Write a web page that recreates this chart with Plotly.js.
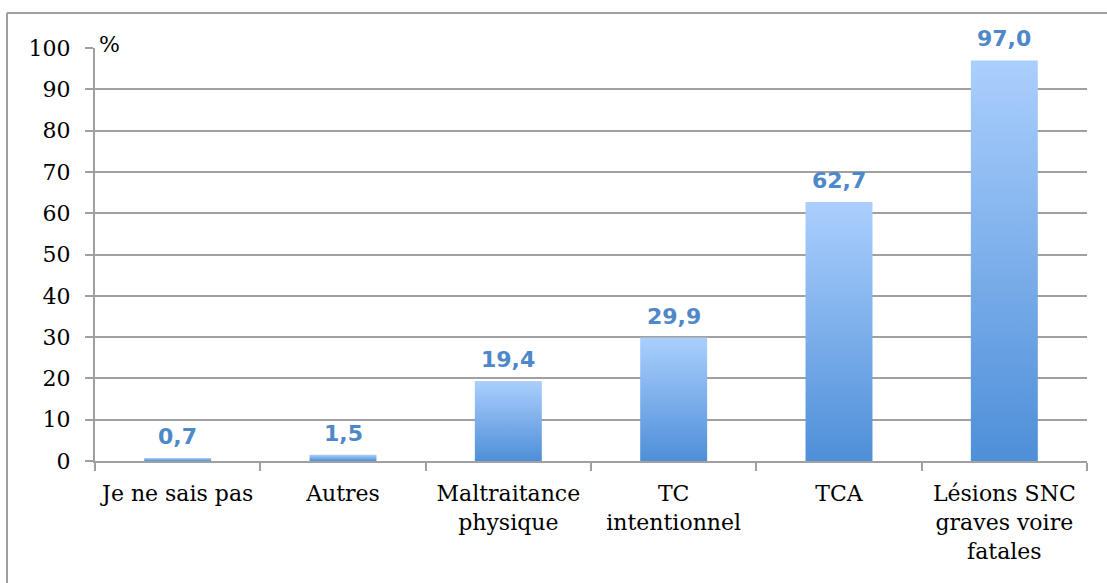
<!DOCTYPE html>
<html>
<head>
<meta charset="utf-8">
<script src="https://cdn.plot.ly/plotly-3.0.1.min.js"></script>
<style>html,body{margin:0;padding:0;background:#fff;}#chart{width:1107px;height:583px;}</style>
</head>
<body>
<div id="chart"></div>
<script>
const categories = ["Je ne sais pas", "Autres", "Maltraitance<br>physique", "TC<br>intentionnel", "TCA", "Lésions SNC<br>graves voire<br>fatales"];
const values = [0.7, 1.5, 19.4, 29.9, 62.7, 97.0];
const yTicks = [0, 10, 20, 30, 40, 50, 60, 70, 80, 90, 100];

const labels = values.map(v => v.toFixed(1).replace('.', ','));
const serif = "DejaVu Serif, Liberation Serif, serif";

const trace = {
  type: 'bar',
  x: categories,
  y: values,
  marker: {color: '#79aef0', line: {width: 0}},
  hoverinfo: 'none'
};

const annotations = categories.map((c, i) => ({
  x: c, y: values[i], xref: 'x', yref: 'y',
  text: '<b>' + labels[i] + '</b>',
  showarrow: false, yanchor: 'bottom', yshift: 7,
  font: {family: "DejaVu Sans, sans-serif", size: 22, color: '#4f88c9'}
}));
annotations.push({
  xref: 'paper', yref: 'paper', x: 0.002, y: 1.0, xanchor: 'left', yanchor: 'middle',
  text: '%', showarrow: false, yshift: 4,
  font: {family: serif, size: 22, color: '#000'}
});

const layout = {
  width: 1107, height: 583,
  margin: {l: 95, r: 20, t: 48, b: 122},
  paper_bgcolor: '#fff', plot_bgcolor: '#fff',
  showlegend: false,
  bargap: 0.595,
  xaxis: {
    showline: true, linecolor: '#a0a0a0', linewidth: 2,
    ticks: 'outside', tickson: 'boundaries', ticklen: 8, tickcolor: '#a0a0a0', tickwidth: 2,
    tickfont: {family: serif, size: 22, color: '#000'},
    ticklabelstandoff: 12,
    showgrid: false, zeroline: false, fixedrange: true
  },
  yaxis: {
    range: [0, 100], tickvals: yTicks, ticktext: yTicks.map(String),
    showline: true, linecolor: '#a0a0a0', linewidth: 2,
    ticks: 'outside', ticklen: 8, tickcolor: '#a0a0a0', tickwidth: 2,
    showgrid: true, gridcolor: '#a0a0a0', gridwidth: 2,
    zeroline: false,
    tickfont: {family: serif, size: 22, color: '#000'},
    ticklabelstandoff: 10, fixedrange: true
  },
  shapes: [
    {type: 'line', xref: 'paper', yref: 'paper', x0: -0.0887, x1: -0.0887, y0: 1.0847, y1: -0.32, line: {color: '#a0a0a0', width: 2}},
    {type: 'line', xref: 'paper', yref: 'paper', x0: -0.0887, x1: 1.03, y0: 1.0847, y1: 1.0847, line: {color: '#a0a0a0', width: 2}}
  ],
  annotations: annotations
};

Plotly.newPlot('chart', [trace], layout, {displayModeBar: false, staticPlot: true}).then(gd => {
  const svg = gd.querySelector('svg.main-svg');
  const ns = 'http://www.w3.org/2000/svg';
  let defs = svg.querySelector('defs');
  if (!defs) { defs = document.createElementNS(ns, 'defs'); svg.insertBefore(defs, svg.firstChild); }
  const grad = document.createElementNS(ns, 'linearGradient');
  grad.setAttribute('id', 'barGrad');
  grad.setAttribute('x1', '0'); grad.setAttribute('y1', '0');
  grad.setAttribute('x2', '0'); grad.setAttribute('y2', '1');
  [['0', '#abcffd'], ['1', '#4e8fd8']].forEach(([o, c]) => {
    const s = document.createElementNS(ns, 'stop');
    s.setAttribute('offset', o); s.setAttribute('stop-color', c);
    grad.appendChild(s);
  });
  defs.appendChild(grad);
  gd.querySelectorAll('.bars .point path').forEach(p => {
    p.style.fill = 'url(#barGrad)';
  });
});
</script>
</body>
</html>
